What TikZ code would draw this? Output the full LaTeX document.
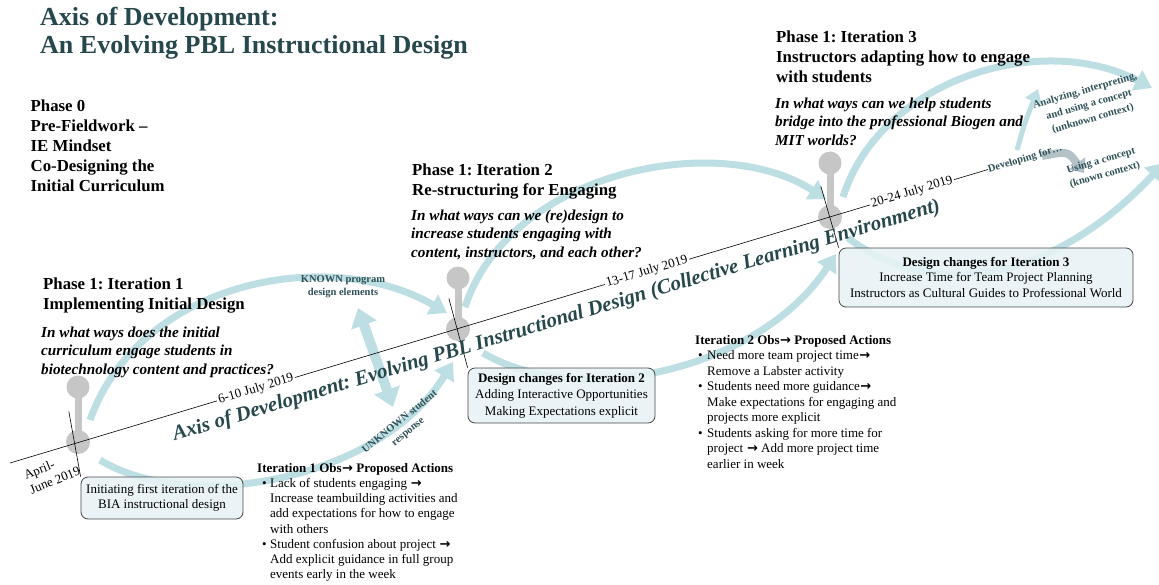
\documentclass[tikz,border=0pt]{standalone}
\usepackage{fontspec}
\setmainfont{Liberation Serif}
\newfontfamily\symfont{DejaVu Sans}
\usetikzlibrary{arrows.meta,calc}

\definecolor{flow}{RGB}{189,222,227}
\definecolor{flowgray}{RGB}{178,194,199}
\definecolor{lolli}{RGB}{198,198,198}
\definecolor{slate}{RGB}{38,71,75}
\definecolor{labelink}{RGB}{45,80,86}
\definecolor{boxfill}{RGB}{231,243,245}
\definecolor{boxline}{RGB}{70,70,70}

\newcommand{\obsarrow}{{\symfont\bfseries\kern0.5pt→}}
\frenchspacing

\begin{document}
\begin{tikzpicture}[x=1pt,y=-1pt,
  flowarc/.style={draw=flow,line width=7pt,-{Triangle[length=17pt,width=22pt]}},
  pin/.style={circle,fill=lolli,inner sep=0pt,minimum size=23pt},
  tick/.style={draw=black,line width=0.6pt},
  datelabel/.style={fill=white,inner sep=1.5pt,font=\fontsize{13}{15}\selectfont,rotate=16.7},
  phase/.style={anchor=north west,inner sep=0pt,align=left,font=\bfseries\fontsize{16.8}{20}\selectfont},
  question/.style={anchor=north west,inner sep=0pt,align=left,font=\bfseries\itshape\fontsize{15.2}{18.5}\selectfont},
  obs/.style={anchor=north west,inner sep=0pt,align=left},
  changebox/.style={draw=boxline,fill=boxfill,fill opacity=0.88,text opacity=1,rounded corners=7pt,line width=0.8pt,align=center,inner sep=0pt},
  flowlabel/.style={inner sep=0pt,align=center,text=labelink,font=\bfseries\fontsize{10.5}{13}\selectfont},
  ctxlabel/.style={flowlabel,font=\bfseries\fontsize{10.5}{14.5}\selectfont},
]
\useasboundingbox (0,0) rectangle (1159,584);

% ---- flow arcs between the iterations ----
\coordinate (a1) at (90,420);   \coordinate (a2) at (447,313);
\coordinate (b1) at (100,460);  \coordinate (b2) at (453,362);
\coordinate (c1) at (465,307);  \coordinate (c2) at (826,199);
\coordinate (e1) at (483,353);  \coordinate (e2) at (836,254);
\coordinate (f1) at (843,197);  \coordinate (f2) at (1152,88);
\coordinate (g1) at (848,238);  \coordinate (g2) at (1164,163);
\draw[flowarc] (a1) .. controls (140,280) and (330,245) .. (a2);
\draw[flowarc] (b1) .. controls (190,515) and (380,480) .. (b2);
\draw[flowarc] (c1) .. controls (510,170) and (720,130) .. (c2);
\draw[flowarc] (e1) .. controls (580,410) and (760,370) .. (e2);
\draw[flowarc] (f1) .. controls (880,80) and (1040,30) .. (f2);
\draw[flowarc] (g1) .. controls (930,300) and (1050,285) .. (g2);

% known / unknown double arrow
\coordinate (dA) at (358,308); \coordinate (dB) at (393,407);
\draw[draw=flow,line width=10pt,{Triangle[length=18pt,width=26pt]}-{Triangle[length=18pt,width=26pt]}] (dA) -- (dB);

% small branch arrows after the axis end
\coordinate (h1) at (1017,150); \coordinate (h2) at (1038,89);
\draw[draw=flow,line width=5pt,-{Triangle[length=13pt,width=17pt]}] (h1) .. controls (1024,125) .. (h2);
\coordinate (k1) at (1042,156); \coordinate (k2) at (1084,173);
\draw[draw=flowgray,line width=8pt,-{Triangle[length=12pt,width=20pt]}] (k1) .. controls (1068,151) .. (k2);

% ---- axis of development ----
\coordinate (axL) at (10,463);
\coordinate (axR) at (988,169.5);

% lollipop markers
\node[pin] (t1) at (78,387) {};
\node[pin,minimum size=24pt] (n1) at (78,442) {};
\node[pin] (t2) at (458,278) {};
\node[pin,minimum size=24pt] (n2) at (458,329) {};
\node[pin] (t3) at (830,163) {};
\node[pin,minimum size=24pt] (n3) at (830,217) {};
\foreach \i in {1,2,3} \draw[lolli,line width=7pt] (t\i.center) -- (n\i.center);

\draw[line width=0.6pt] (axL) -- (axR);

% design-change boxes
\node[changebox,minimum width=162pt,minimum height=42pt,font=\fontsize{13}{15.5}\selectfont] (box1) at (162,498)
  {Initiating first iteration of the\\BIA instructional design};
\node[changebox,minimum width=187pt,minimum height=55pt,font=\fontsize{13}{16.5}\selectfont] (box2) at (561.5,395.5)
  {\textbf{Design changes for Iteration 2}\\Adding Interactive Opportunities\\Making Expectations explicit};
\node[changebox,minimum width=294pt,minimum height=59pt,font=\fontsize{13}{15.5}\selectfont] (box3) at (986,277.5)
  {\textbf{Design changes for Iteration 3}\\Increase Time for Team Project Planning\\Instructors as Cultural Guides to Professional World};

% ticks across the axis, down to the boxes
\draw[tick] ($(n1)+(-9.2,-30.7)$) -- (box1.north west);
\draw[tick] ($(n2)+(-9.2,-30.7)$) -- (box2.north west);
\draw[tick] ($(n3)+(-9.2,-30.7)$) -- (box3.north west);

% dates on the axis
\node[rotate=22,align=left,inner sep=0pt,font=\fontsize{13}{15.5}\selectfont] (d0) at (52,473) {April-\\June 2019};
\node[datelabel] (d1) at ($(axL)!0.2515!(axR)$) {6-10 July 2019};
\node[datelabel] (d2) at ($(axL)!0.6513!(axR)$) {13-17 July 2019};
\node[datelabel] (d3) at ($(axL)!0.9223!(axR)$) {20-24 July 2019};

\node[anchor=base,rotate=16.7,inner sep=0pt,text=slate,font=\bfseries\itshape\fontsize{20.8}{24}\selectfont] (axistitle) at (558,326)
  {Axis of Development: Evolving PBL Instructional Design (Collective Learning Environment)};

\node[flowlabel,anchor=base west,rotate=16.7] (devfor) at (989,172.5) {Developing for…};

% flow labels
\node[flowlabel] (known) at (343,287) {KNOWN program\\design elements};
\node[flowlabel,rotate=39] (unknown) at (404,427) {UNKNOWN student\\response};
\node[ctxlabel,rotate=16] (unkctx) at (1089,105) {Analyzing, interpreting,\\and using a concept\\(unknown context)};
\node[ctxlabel,rotate=16] (knownctx) at (1103,168) {Using a concept\\(known context)};

% ---- titles and phase texts ----
\node[anchor=north west,inner sep=0pt,align=left,text=slate,font=\bfseries\fontsize{26}{28}\selectfont] (title) at (40,7.2)
  {Axis of Development:\\An Evolving PBL Instructional Design};

\node[phase] (phase0) at (30.5,99.5) {Phase 0\\Pre-Fieldwork –\\IE Mindset\\Co-Designing the\\Initial Curriculum};

\node[phase] (p1) at (43,277.5) {Phase 1: Iteration 1\\Implementing Initial Design};
\node[question] (q1) at (41,326.6) {In what ways does the initial\\curriculum engage students in\\biotechnology content and practices?};

\node[phase] (p2) at (412,163.5) {Phase 1: Iteration 2\\Re-structuring for Engaging};
\node[question] (q2) at (411,209.6) {In what ways can we (re)design to\\increase students engaging with\\content, instructors, and each other?};

\node[phase] (p3) at (776,30.5) {Phase 1: Iteration 3\\Instructors adapting how to engage\\with students};
\node[question] (q3) at (775,97.6) {In what ways can we help students\\bridge into the professional Biogen and\\MIT worlds?};

% observations
\node[obs,font=\fontsize{13}{15.2}\selectfont] (obs1) at (257,463.1)
  {\textbf{Iteration 1 Obs\obsarrow{} Proposed Actions}\\
   \hspace*{5pt}\makebox[8pt][l]{•}Lack of students engaging \obsarrow\\
   \hspace*{13pt}Increase teambuilding activities and\\
   \hspace*{13pt}add expectations for how to engage\\
   \hspace*{13pt}with others\\
   \hspace*{5pt}\makebox[8pt][l]{•}Student confusion about project \obsarrow\\
   \hspace*{13pt}Add explicit guidance in full group\\
   \hspace*{13pt}events early in the week};

\node[obs,font=\fontsize{13}{15.5}\selectfont] (obs2) at (695,335.1)
  {\textbf{Iteration 2 Obs\obsarrow{} Proposed Actions}\\
   \hspace*{3pt}\makebox[9pt][l]{•}Need more team project time\obsarrow\\
   \hspace*{12pt}Remove a Labster activity\\
   \hspace*{3pt}\makebox[9pt][l]{•}Students need more guidance\obsarrow\\
   \hspace*{12pt}Make expectations for engaging and\\
   \hspace*{12pt}projects more explicit\\
   \hspace*{3pt}\makebox[9pt][l]{•}Students asking for more time for\\
   \hspace*{12pt}project \obsarrow{} Add more project time\\
   \hspace*{12pt}earlier in week};
\end{tikzpicture}
\end{document}
